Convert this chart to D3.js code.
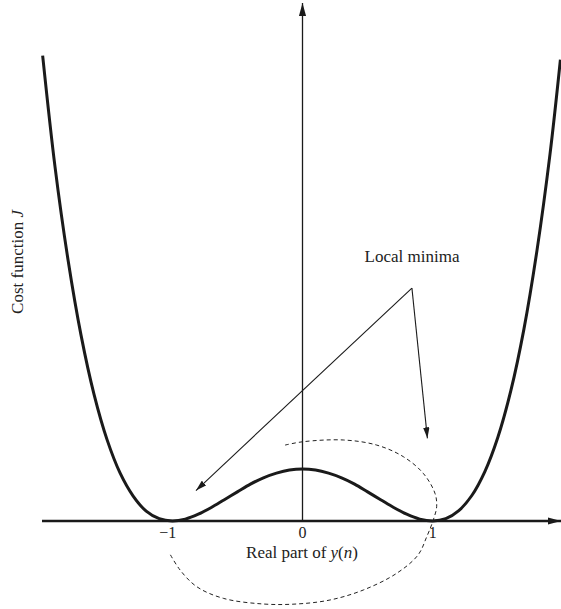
<!DOCTYPE html>
<html><head><meta charset="utf-8">
<script src="https://cdn.jsdelivr.net/npm/d3@7"></script>
<style>html,body{margin:0;padding:0;background:#fff;}svg{display:block;}</style>
</head><body>
<svg id="c" width="561" height="609"></svg>
<script>
// Cost function J vs real part of y(n)
const curveX = [-1.995,-1.9,-1.8,-1.7,-1.6,-1.5,-1.4,-1.3,-1.2,-1.1,-1.0,-0.9,-0.8,-0.7,-0.6,-0.5,-0.4,-0.3,-0.2,-0.1,0,
                0.1,0.2,0.3,0.4,0.5,0.6,0.7,0.8,0.9,1.0,1.1,1.2,1.3,1.4,1.5,1.6,1.7,1.8,1.9,1.98];
const curveJ = [8.95,6.81,5.02,3.57,2.43,1.56,0.92,0.48,0.19,0.044,0,0.036,0.13,0.26,0.41,0.56,0.71,0.83,0.92,0.98,1.0,
                0.98,0.92,0.83,0.71,0.56,0.41,0.26,0.13,0.036,0,0.045,0.2,0.49,0.95,1.61,2.51,3.69,5.2,7.05,8.87];
// dashed trajectory (data units)
const pathX = [-0.134,0.006,0.313,0.570,0.774,0.927,1.017,1.030,1.004,0.954,0.887,0.723,0.467,0.211,-0.045,-0.301,-0.608,-0.812,-0.940,-1.023];
const pathJ = [1.46,1.525,1.558,1.46,1.237,0.917,0.533,0.275,0.019,-0.302,-0.654,-1.006,-1.327,-1.519,-1.596,-1.596,-1.487,-1.263,-0.942,-0.610];
const tickValues = [-1, 0, 1];
const tickLabels = ["\u22121", "0", "1"];
// annotation: label anchor and arrow targets (data units)
const annoLabel = "Local minima";
const annoApex = [0.84, 4.48];
const annoTargets = [[-0.818, 0.586], [0.959, 1.59]];

const svg = d3.select("#c");
const x = d3.scaleLinear().domain([-2, 2]).range([42, 563]);
const y = d3.scaleLinear().domain([0, 10]).range([521, 1]);
const font = "'Liberation Serif','Times New Roman',serif";

const defs = svg.append("defs");
function marker(id, len, half) {
  defs.append("marker").attr("id", id).attr("markerUnits", "userSpaceOnUse")
    .attr("viewBox", `0 ${-half} ${len} ${2*half}`).attr("refX", len).attr("refY", 0)
    .attr("markerWidth", len).attr("markerHeight", 2*half).attr("orient", "auto")
    .append("path").attr("d", `M0,${-half}L${len},0L0,${half}Z`).attr("fill", "#1a1a1a");
}
marker("axArrow", 13, 3.6);
marker("anArrow", 11, 3.2);

// x axis
svg.append("line").attr("x1", x(-2)).attr("x2", 561).attr("y1", y(0)).attr("y2", y(0))
  .attr("stroke", "#1a1a1a").attr("stroke-width", 2.4).attr("marker-end", "url(#axArrow)");
// y axis
svg.append("line").attr("x1", x(0)).attr("x2", x(0)).attr("y1", y(0)).attr("y2", 3)
  .attr("stroke", "#1a1a1a").attr("stroke-width", 1.3).attr("marker-end", "url(#axArrow)");

// tick labels
svg.selectAll("text.tick").data(tickValues).join("text").attr("class", "tick")
  .attr("x", (d, i) => x(d) - (tickLabels[i].length > 1 ? 4.5 : 0))
  .attr("y", 538).attr("text-anchor", "middle")
  .attr("font-family", font).attr("font-size", 16).attr("fill", "#222")
  .text((d, i) => tickLabels[i]);

// axis titles
const xt = svg.append("text").attr("x", 302).attr("y", 558).attr("text-anchor", "middle")
  .attr("font-family", font).attr("font-size", 17).attr("fill", "#222");
xt.append("tspan").text("Real part of ");
xt.append("tspan").attr("font-style", "italic").text("y");
xt.append("tspan").text("(");
xt.append("tspan").attr("font-style", "italic").text("n");
xt.append("tspan").text(")");

const yt = svg.append("text").attr("transform", "translate(23,262) rotate(-90)").attr("text-anchor", "middle")
  .attr("font-family", font).attr("font-size", 17).attr("fill", "#222");
yt.append("tspan").text("Cost function ");
yt.append("tspan").attr("font-style", "italic").text("J");

// main curve
const pts = curveX.map((v, i) => [v, curveJ[i]]);
svg.append("path").datum(pts)
  .attr("d", d3.line().x(d => x(d[0])).y(d => y(d[1])).curve(d3.curveCatmullRom.alpha(0.5)))
  .attr("fill", "none").attr("stroke", "#1a1a1a").attr("stroke-width", 3);

// dashed trajectory
const dpts = pathX.map((v, i) => [v, pathJ[i]]);
svg.append("path").datum(dpts)
  .attr("d", d3.line().x(d => x(d[0])).y(d => y(d[1])).curve(d3.curveCatmullRom.alpha(0.5)))
  .attr("fill", "none").attr("stroke", "#222").attr("stroke-width", 1).attr("stroke-dasharray", "4,3");

// annotation
svg.append("text").attr("x", 412).attr("y", 262).attr("text-anchor", "middle")
  .attr("font-family", font).attr("font-size", 17).attr("fill", "#222").text(annoLabel);
annoTargets.forEach(t => {
  svg.append("line").attr("x1", x(annoApex[0])).attr("y1", y(annoApex[1]))
    .attr("x2", x(t[0])).attr("y2", y(t[1]))
    .attr("stroke", "#1a1a1a").attr("stroke-width", 1.1).attr("marker-end", "url(#anArrow)");
});
</script>
</body></html>
